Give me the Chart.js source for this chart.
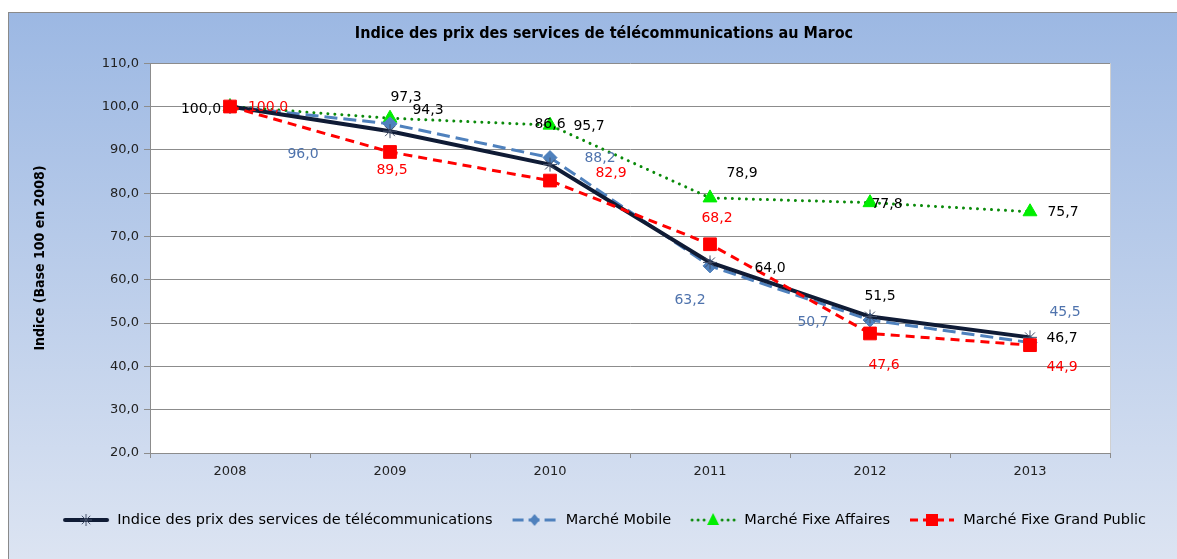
<!DOCTYPE html>
<html><head><meta charset="utf-8">
<script src="https://cdn.jsdelivr.net/npm/chart.js@4.4.1/dist/chart.umd.min.js"></script>
<style>
html,body{margin:0;padding:0;background:#fff;width:1177px;height:559px;overflow:hidden;}
#frame{position:absolute;left:8px;top:12px;width:1169px;height:547px;border-left:1px solid #8a8a8a;border-top:1px solid #8a8a8a;background:linear-gradient(to bottom,#9cb8e3 0%,#dce4f2 100%);box-sizing:border-box;}
#c{position:absolute;left:0;top:0;width:1168px;height:546px;}
</style></head>
<body><div id="frame"><canvas id="c" width="1168" height="546"></canvas></div>
<script>
// ---- data ----
const years = ['2008', '2009', '2010', '2011', '2012', '2013'];
const indiceTelecom = [100.0, 94.3, 86.6, 64.0, 51.5, 46.7];
const marcheMobile = [100.0, 96.0, 88.2, 63.2, 50.7, 45.5];
const fixeAffaires = [100.0, 97.3, 95.7, 78.9, 77.8, 75.7];
const fixeGrandPublic = [100.0, 89.5, 82.9, 68.2, 47.6, 44.9];
const seriesNames = ['Indice des prix des services de télécommunications', 'Marché Mobile', 'Marché Fixe Affaires', 'Marché Fixe Grand Public'];
const chartTitle = 'Indice des prix des services de télécommunications au Maroc';
const yAxisTitle = 'Indice (Base 100 en 2008)';
const yMin = 20, yMax = 110, yStep = 10;

// ---- styling (label placement offsets, px relative to the point) ----
const labelOffsets = [
  [[-29, 3], [38, -21], [0, -40], [60, 6], [10, -20], [32, 1]],
  [null, [-87, 31], [50, 1], [-20, 34], [-57, 2], [35, -30]],
  [null, [16, -21], [39, 1], [32, -25], [17, 2], [33, 1]],
  [[38, 1], [2, 18], [61, -7], [7, -26], [14, 32], [32, 22]]
];
const labelColors = ['#000000', '#4f73ad', '#000000', '#ff0000'];
const fmt = v => v.toFixed(1).replace('.', ',');

function legendImg(kind) {
  const c = document.createElement('canvas');
  c.width = 48; c.height = 16;
  const g = c.getContext('2d');
  const y = 8;
  g.lineCap = 'butt';
  if (kind === 0) {
    g.strokeStyle = '#0f1b35'; g.lineWidth = 4; g.lineCap = 'round';
    g.beginPath(); g.moveTo(3, y); g.lineTo(45, y); g.stroke();
    g.strokeStyle = '#44506a'; g.lineWidth = 1; g.lineCap = 'butt';
    g.beginPath();
    for (let a = 0; a < 4; a++) { const r = a * Math.PI / 4; g.moveTo(24 - 6 * Math.cos(r), y - 6 * Math.sin(r)); g.lineTo(24 + 6 * Math.cos(r), y + 6 * Math.sin(r)); }
    g.stroke();
  } else if (kind === 1) {
    g.strokeStyle = '#4f81bd'; g.lineWidth = 3;
    g.setLineDash([11, 5]);
    g.beginPath(); g.moveTo(2, y); g.lineTo(46, y); g.stroke();
    g.setLineDash([]);
    g.fillStyle = '#4f81bd';
    g.beginPath(); g.moveTo(24, y - 6); g.lineTo(29, y); g.lineTo(24, y + 6); g.lineTo(19, y); g.closePath(); g.fill();
  } else if (kind === 2) {
    g.fillStyle = '#0a8a0a';
    for (let x = 3; x < 46; x += 6) { if (Math.abs(x - 24) > 5) { g.beginPath(); g.arc(x, y, 1.5, 0, Math.PI * 2); g.fill(); } }
    g.fillStyle = '#00ee00';
    g.beginPath(); g.moveTo(24, y - 7); g.lineTo(30, y + 5); g.lineTo(18, y + 5); g.closePath(); g.fill();
  } else {
    g.strokeStyle = '#ff0000'; g.lineWidth = 3;
    g.setLineDash([8, 5]);
    g.beginPath(); g.moveTo(2, y); g.lineTo(46, y); g.stroke();
    g.setLineDash([]);
    g.fillStyle = '#ff0000';
    g.fillRect(18, y - 6, 12, 12);
  }
  return c;
}
const legendImages = [0, 1, 2, 3].map(legendImg);

const plotBg = {
  id: 'plotBg',
  beforeDraw(chart) {
    const {ctx, chartArea: a} = chart;
    ctx.save();
    ctx.fillStyle = '#ffffff';
    ctx.fillRect(a.left, a.top, a.right - a.left, a.bottom - a.top);
    ctx.strokeStyle = '#d0d0d0'; ctx.lineWidth = 1;
    ctx.beginPath(); ctx.moveTo(a.right + 0.5, a.top); ctx.lineTo(a.right + 0.5, a.bottom); ctx.stroke();
    ctx.restore();
  }
};

const dataLabels = {
  id: 'dataLabels',
  afterDatasetsDraw(chart) {
    const ctx = chart.ctx;
    ctx.save();
    ctx.font = '14px "DejaVu Sans", Verdana, sans-serif';
    ctx.textAlign = 'center';
    ctx.textBaseline = 'middle';
    chart.data.datasets.forEach((ds, d) => {
      const meta = chart.getDatasetMeta(d);
      meta.data.forEach((pt, i) => {
        const off = labelOffsets[d][i];
        if (!off) return;
        ctx.fillStyle = labelColors[d];
        ctx.fillText(fmt(ds.data[i]), pt.x + off[0], pt.y + off[1]);
      });
    });
    ctx.restore();
  }
};

new Chart(document.getElementById('c'), {
  type: 'line',
  data: {
    labels: years,
    datasets: [
      { label: seriesNames[0], data: indiceTelecom, borderColor: '#0f1b35', borderWidth: 4, pointStyle: 'star', pointRadius: 7, pointBorderColor: '#44506a', pointBackgroundColor: '#44506a', pointBorderWidth: 1, order: 1, tension: 0 },
      { label: seriesNames[1], data: marcheMobile, borderColor: '#4f81bd', borderWidth: 3, borderDash: [13, 6], pointStyle: 'rectRot', pointRadius: 7, pointBackgroundColor: '#4f81bd', pointBorderColor: '#4f81bd', pointBorderWidth: 1, order: 2, tension: 0 },
      { label: seriesNames[2], data: fixeAffaires, borderColor: '#0a8a0a', borderWidth: 3, borderDash: [0.01, 7], borderCapStyle: 'round', pointStyle: 'triangle', pointRadius: 8, pointBackgroundColor: '#00ee00', pointBorderColor: '#00ee00', pointBorderWidth: 1, order: 3, tension: 0 },
      { label: seriesNames[3], data: fixeGrandPublic, borderColor: '#ff0000', borderWidth: 3, borderDash: [9, 6], pointStyle: 'rect', pointRadius: 9, pointBackgroundColor: '#ff0000', pointBorderColor: '#ff0000', pointBorderWidth: 1, order: 0, tension: 0 }
    ]
  },
  options: {
    responsive: false,
    animation: false,
    devicePixelRatio: 1,
    layout: { padding: { left: 22, right: 0, top: 0, bottom: 21.75 } },
    plugins: {
      title: {
        display: true, text: chartTitle, color: '#000',
        font: { family: '"Liberation Sans Narrow", "DejaVu Sans Condensed", sans-serif', size: 16, weight: 'bold' },
        padding: { top: 11, bottom: 20 }
      },
      legend: {
        position: 'bottom',
        labels: {
          usePointStyle: true, pointStyleWidth: 48, padding: 18, color: '#000',
          font: { family: '"DejaVu Sans", Verdana, sans-serif', size: 14.5 },
          generateLabels: chart => chart.data.datasets.map((ds, i) => ({
            text: ds.label, pointStyle: legendImages[i], datasetIndex: i, hidden: false,
            lineWidth: 0, strokeStyle: 'rgba(0,0,0,0)', fillStyle: 'rgba(0,0,0,0)', fontColor: '#000'
          }))
        }
      },
      tooltip: { enabled: false }
    },
    scales: {
      x: {
        offset: true,
        grid: { offset: true, drawOnChartArea: false, drawTicks: true, tickLength: 5, color: '#8c8c8c' },
        border: { color: '#8c8c8c' },
        ticks: { color: '#222', font: { family: '"DejaVu Sans", Verdana, sans-serif', size: 13 }, padding: 6 },
        afterFit: s => { s.height = 41.75; }
      },
      y: {
        min: yMin, max: yMax,
        grid: { color: '#8c8c8c', tickLength: 6 },
        border: { color: '#8c8c8c' },
        ticks: { stepSize: yStep, color: '#222', padding: 5, font: { family: '"DejaVu Sans", Verdana, sans-serif', size: 13 }, callback: v => fmt(v) },
        title: { display: true, text: yAxisTitle, color: '#000', padding: { top: 1, bottom: 0 },
          font: { family: '"Liberation Sans Narrow", "DejaVu Sans Condensed", sans-serif', size: 14, weight: 'bold' } },
        afterFit: s => { s.width = 119; }
      },
      yR: {
        type: 'linear', position: 'right', min: 0, max: 1, display: true,
        grid: { display: false, drawOnChartArea: false }, border: { display: false }, ticks: { display: false },
        afterFit: s => { s.width = 67; }
      }
    }
  },
  plugins: [plotBg, dataLabels]
});
</script>
</body></html>
